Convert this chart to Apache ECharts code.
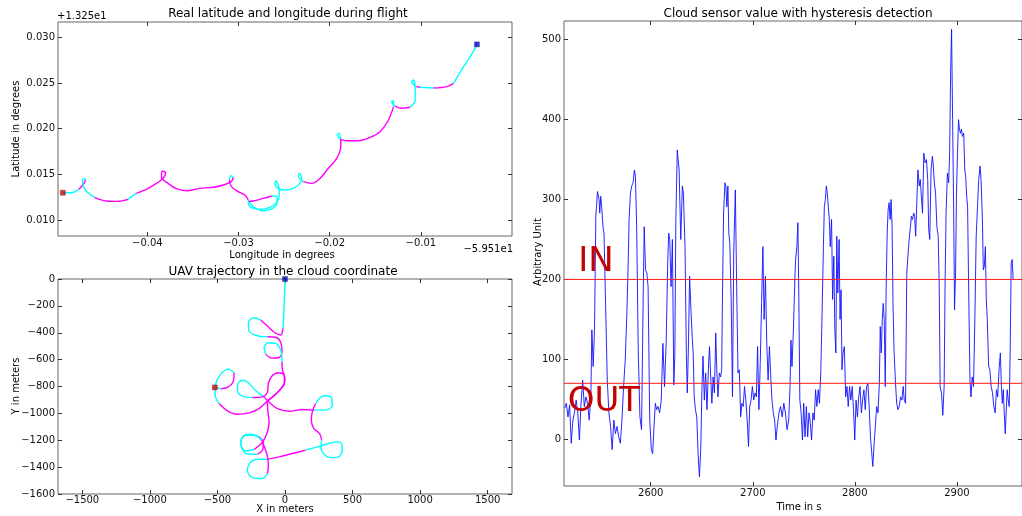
<!DOCTYPE html>
<html>
<head>
<meta charset="utf-8">
<script src="https://cdn.jsdelivr.net/npm/echarts@6/dist/echarts.min.js"></script>
<style>
html,body{margin:0;padding:0;background:#ffffff;}
#chart{width:1022px;height:516px;}
</style>
</head>
<body>
<div id="chart"></div>
<script>
// ---------- Panel 1: real latitude / longitude (offsets from -59.51 / +13.25) ----------
const gpsLon = [
  -0.04927,-0.04835,-0.04751,-0.04700,-0.04678,-0.04689,-0.04711,-0.04707,-0.04663,-0.04579,
  -0.04451,-0.04322,-0.04212,-0.04121,-0.04011,-0.03901,-0.03828,-0.03800,-0.03840,-0.03845,
  -0.03773,-0.03681,-0.03571,-0.03425,-0.03278,-0.03168,-0.03080,-0.03055,-0.03085,-0.03100,
  -0.03077,-0.03004,-0.02930,-0.02894,-0.02839,-0.02729,-0.02626,-0.02575,-0.02582,-0.02637,
  -0.02729,-0.02839,-0.02894,-0.02875,-0.02784,-0.02656,-0.02564,-0.02553,-0.02564,-0.02590,
  -0.02601,-0.02564,-0.02491,-0.02399,-0.02326,-0.02308,-0.02333,-0.02344,-0.02289,-0.02198,
  -0.02106,-0.02015,-0.01923,-0.01879,-0.01879,-0.01894,-0.01916,-0.01886,-0.01813,-0.01685,
  -0.01557,-0.01447,-0.01355,-0.01300,-0.01300,-0.01319,-0.01282,-0.01209,-0.01117,-0.01062,
  -0.01062,-0.01081,-0.01099,-0.01051,-0.01007,-0.00861,-0.00714,-0.00641,-0.00531,-0.00458,-0.00385
];
const gpsLat = [
  0.01299,0.01299,0.01336,0.01394,0.01438,0.01456,0.01438,0.01383,0.01310,0.01248,
  0.01208,0.01204,0.01226,0.01292,0.01336,0.01401,0.01456,0.01520,0.01535,0.01470,
  0.01401,0.01343,0.01321,0.01347,0.01358,0.01383,0.01420,0.01468,0.01485,0.01440,
  0.01365,0.01310,0.01274,0.01219,0.01146,0.01102,0.01128,0.01201,0.01255,0.01263,
  0.01237,0.01208,0.01201,0.01146,0.01117,0.01139,0.01219,0.01310,0.01383,0.01427,
  0.01401,0.01347,0.01328,0.01347,0.01401,0.01456,0.01511,0.01482,0.01420,0.01401,
  0.01456,0.01566,0.01675,0.01803,0.01876,0.01949,0.01931,0.01883,0.01868,0.01868,
  0.01905,0.01967,0.02095,0.02241,0.02307,0.02296,0.02248,0.02223,0.02234,0.02314,
  0.02423,0.02533,0.02515,0.02460,0.02453,0.02445,0.02460,0.02496,0.02679,0.02788,0.02923
];
// 0 = outside cloud (cyan), 1 = inside cloud (magenta)
const gpsState = [
  0,0,1,1,0,0,0,0,0,1,
  1,1,0,1,1,1,1,1,1,1,
  1,1,1,1,1,1,1,0,0,1,
  1,1,1,0,0,0,0,0,0,1,
  1,1,0,0,0,0,0,0,0,0,
  0,0,0,0,0,0,0,0,1,1,
  1,1,1,1,0,0,0,1,1,1,
  1,1,1,0,0,0,1,1,0,0,
  0,0,0,1,0,1,1,0,0,0,0
];
const lonTicks = [-0.04,-0.03,-0.02,-0.01];
const latTicks = [0.010,0.015,0.020,0.025,0.030];

// ---------- Panel 2: UAV trajectory in the cloud coordinate (meters) ----------
const cloudX = [
  0,-5,-10,-15,-32,-74,-130,-179,-229,-271,
  -266,-204,-130,-61,-29,-22,-44,-98,-143,-155,
  -123,-69,-32,-22,-19,-5,-5,-44,-98,-130,
  -128,-118,-130,-155,-180,-229,-290,-327,-310,-253,
  -192,-160,-167,-204,-266,-315,-327,-290,-229,-172,
  -143,-130,-123,-130,-172,-241,-278,-253,-192,-130,
  -44,54,153,264,338,404,424,404,350,288,
  266,271,256,214,195,202,227,288,338,350,
  301,214,128,30,-56,-106,-155,-216,-266,-303,
  -345,-352,-315,-241,-167,-130,-123,-98,-49,-7,
  0,-24,-74,-130,-192,-266,-352,-426,-487,-517,
  -512,-475,-421,-377,-382,-426,-475,-519
];
const cloudY = [
  0,-157,-281,-368,-417,-400,-350,-306,-288,-325,
  -388,-422,-430,-437,-479,-542,-584,-589,-559,-512,
  -474,-479,-529,-616,-678,-723,-778,-832,-882,-914,
  -976,-1063,-1138,-1195,-1230,-1269,-1279,-1225,-1170,-1155,
  -1175,-1220,-1274,-1304,-1304,-1269,-1212,-1163,-1163,-1200,
  -1274,-1324,-1386,-1448,-1485,-1478,-1423,-1361,-1341,-1341,
  -1324,-1299,-1274,-1242,-1220,-1212,-1262,-1319,-1329,-1304,
  -1249,-1200,-1150,-1113,-1051,-989,-927,-869,-877,-939,
  -976,-976,-971,-984,-964,-927,-877,-832,-778,-753,
  -772,-827,-872,-882,-877,-840,-778,-723,-698,-713,
  -753,-807,-864,-909,-964,-996,-1006,-981,-927,-864,
  -778,-708,-671,-698,-760,-807,-817,-807
];
const cloudState = [
  0,0,0,1,1,1,1,0,0,0,
  0,0,1,1,1,1,1,1,0,0,
  0,0,0,1,1,1,1,1,1,1,
  1,1,1,1,1,0,0,0,0,0,
  1,1,1,0,0,0,0,0,0,1,
  1,1,1,0,0,0,0,0,0,1,
  1,1,0,0,0,0,0,0,0,0,
  0,1,1,1,1,1,0,0,0,0,
  0,1,1,1,1,1,0,0,0,0,
  0,0,0,1,1,1,1,1,1,1,
  1,1,1,1,1,1,1,1,0,0,
  0,0,0,1,1,1,0,0
];
const cloudXTicks = [-1500,-1000,-500,0,500,1000,1500];
const cloudYTicks = [-1600,-1400,-1200,-1000,-800,-600,-400,-200,0];

// ---------- Panel 3: cloud sensor value ----------
const sensorTime = [
  2515.7,2517.3,2518.9,2520.5,2522.1,2523.7,2525.3,2526.9,2528.5,2530.1,
  2531.7,2533.3,2534.9,2536.5,2538.1,2539.7,2541.3,2542.3,2543.6,2544.9,
  2546.2,2547.8,2549.4,2550.0,2551.0,2551.9,2553.2,2554.2,2555.8,2557.4,
  2559.0,2560.6,2562.2,2563.8,2565.4,2567.0,2568.6,2570.2,2571.8,2573.4,
  2575.0,2576.6,2577.6,2578.8,2580.1,2581.4,2582.7,2584.0,2585.0,2586.2,
  2587.8,2589.4,2591.0,2592.6,2593.6,2594.9,2596.2,2597.4,2599.0,2600.6,
  2601.9,2603.2,2604.5,2605.8,2607.1,2608.7,2610.3,2611.9,2613.5,2615.1,
  2616.7,2617.6,2618.6,2619.9,2621.2,2622.6,2623.6,2624.6,2626.0,2627.8,
  2629.4,2631.0,2632.0,2633.6,2634.9,2635.8,2636.8,2638.1,2639.4,2640.6,
  2641.6,2642.6,2643.8,2645.1,2646.4,2647.7,2649.0,2650.2,2651.2,2652.5,
  2653.8,2655.1,2656.7,2657.6,2658.9,2659.9,2661.1,2662.4,2663.7,2664.7,
  2665.9,2667.2,2668.5,2669.5,2670.4,2671.4,2672.7,2673.6,2674.6,2675.6,
  2676.5,2677.5,2678.8,2680.1,2681.3,2682.9,2684.2,2685.5,2686.8,2688.1,
  2689.3,2690.6,2691.9,2693.2,2694.5,2695.8,2697.0,2698.3,2699.6,2700.9,
  2702.2,2703.5,2704.7,2706.0,2707.3,2708.6,2709.9,2711.1,2712.4,2713.7,
  2715.0,2716.3,2717.6,2718.8,2720.1,2721.4,2722.7,2724.0,2725.6,2727.2,
  2728.8,2730.4,2732.0,2733.6,2735.2,2736.5,2737.4,2738.4,2739.7,2741.0,
  2741.9,2743.2,2744.2,2745.1,2746.1,2747.4,2748.7,2749.9,2751.2,2752.5,
  2753.8,2755.1,2756.4,2757.6,2758.9,2760.2,2761.5,2762.8,2764.1,2765.3,
  2766.6,2767.9,2769.2,2770.1,2771.1,2772.1,2773.0,2774.0,2775.0,2775.9,
  2777.2,2778.2,2779.4,2780.4,2781.4,2782.3,2783.3,2784.6,2785.5,2786.5,
  2787.4,2788.4,2789.7,2791.0,2792.3,2793.5,2794.8,2796.1,2797.4,2798.7,
  2799.9,2801.2,2802.5,2803.8,2805.1,2806.4,2807.6,2808.9,2810.2,2811.5,
  2812.8,2814.0,2815.3,2816.6,2817.6,2818.9,2820.1,2821.4,2822.7,2824.0,
  2824.9,2825.9,2826.9,2827.8,2828.8,2829.8,2830.7,2831.7,2832.6,2833.6,
  2834.6,2835.5,2836.5,2837.4,2838.4,2839.7,2841.0,2842.3,2843.5,2844.8,
  2846.1,2847.4,2848.4,2849.7,2850.9,2852.2,2853.5,2854.5,2855.4,2856.4,
  2857.7,2858.6,2859.6,2860.5,2861.8,2863.1,2864.1,2865.0,2866.3,2867.6,
  2868.9,2870.2,2871.4,2872.4,2873.4,2874.7,2876.0,2876.9,2877.9,2879.1,
  2880.4,2881.7,2882.7,2883.6,2884.9,2886.2,2887.5,2888.4,2889.4,2890.7,
  2891.9,2892.9,2893.9,2894.8,2895.8,2896.8,2897.7,2898.7,2899.6,2900.6,
  2901.6,2902.5,2903.5,2904.5,2905.4,2906.7,2907.7,2908.6,2909.6,2910.5,
  2911.5,2912.8,2913.8,2915.0,2916.3,2917.6,2918.9,2920.2,2921.4,2922.7,
  2923.7,2925.0,2925.9,2926.9,2927.9,2928.8,2929.8,2931.1,2932.3,2933.6,
  2934.9,2936.2,2937.5,2938.8,2940.0,2941.3,2942.6,2943.6,2944.5,2945.5,
  2946.4,2947.4,2948.4,2949.3,2950.3,2951.3,2952.2,2953.2,2954.2,2955.1
];
const sensorValue = [
  39,45,28,43,-5,24,33,49,33,-1,
  45,74,41,53,45,24,53,137,91,137,
  279,310,300,283,304,291,266,258,166,74,
  33,16,-13,24,7,16,3,-5,24,66,
  99,158,204,275,308,317,321,337,329,266,
  108,28,12,179,266,212,208,191,24,-13,
  -18,16,45,37,41,33,49,120,66,120,
  225,258,250,191,250,68,105,275,362,337,
  250,317,308,241,108,58,108,204,162,129,
  108,53,37,28,-18,-47,-13,66,104,49,
  83,37,95,116,74,45,78,58,133,87,
  53,83,78,87,191,283,321,317,291,317,
  258,245,175,53,233,312,191,83,87,28,
  45,41,66,49,24,-9,41,49,66,49,
  58,53,116,37,95,170,241,150,204,120,
  74,116,78,49,33,24,-1,16,33,41,
  28,45,33,12,24,66,124,91,133,191,
  225,241,271,179,49,33,-1,45,3,41,
  3,33,20,-1,33,24,62,41,62,45,
  83,158,241,291,300,317,308,291,275,241,
  275,175,229,137,108,254,183,250,150,187,
  87,108,116,53,66,41,66,49,66,37,
  -1,49,28,53,66,33,49,62,37,66,
  70,41,3,-18,-34,-5,16,41,33,70,
  141,108,150,170,150,66,191,258,287,296,
  275,300,266,170,112,74,45,37,41,53,
  49,66,49,45,208,233,254,266,279,275,
  283,279,254,254,337,317,325,308,283,358,
  346,350,325,262,250,337,354,342,321,308,
  266,254,191,66,58,30,66,191,283,333,
  321,358,463,513,400,291,162,208,308,358,
  400,388,383,388,379,383,337,329,304,291,
  191,74,53,78,66,150,254,291,325,342,
  325,275,212,216,241,175,150,91,87,66,
  58,41,33,62,53,87,108,66,45,62,
  33,7,37,62,49,41,108,220,225,200
];
const thresholds = [200, 70];           // IN / OUT hysteresis levels
const timeTicks = [2600,2700,2800,2900];
const sensorTicks = [0,100,200,300,400,500];

// ---------- chart ----------
const FONT = 'DejaVu Sans';
const CYAN = '#00ffff', MAGENTA = '#ff00ff';
const chart = echarts.init(document.getElementById('chart'), null, {renderer: 'canvas'});

const LON_RANGE = [-0.0498, 0.0], LAT_RANGE = [0.00825, 0.03168];
const CX_RANGE = [-1680, 1680], CY_RANGE = [-1600, 0];
const T_RANGE = [2515, 2963.8], V_RANGE = [-58.5, 523.4];

function signed(dec) {
  return v => (v < 0 ? '\u2212' : '') + Math.abs(v).toFixed(dec);
}
function mainAxis(gridIndex, position, range, ticks, dec, margin) {
  return {
    type: 'value', gridIndex, position, min: range[0], max: range[1],
    axisLine: {show: false, onZero: false}, splitLine: {show: false},
    axisTick: {show: true, inside: true, length: 4, customValues: ticks, lineStyle: {color: '#333', width: 1}},
    axisLabel: {show: true, customValues: ticks, formatter: signed(dec), margin,
      fontFamily: FONT, fontSize: 10, color: '#111', showMinLabel: true, showMaxLabel: true}
  };
}
function mirrorAxis(gridIndex, position, range, ticks) {
  return {
    type: 'value', gridIndex, position, min: range[0], max: range[1],
    axisLine: {show: false, onZero: false}, splitLine: {show: false},
    axisTick: {show: true, inside: true, length: 4, customValues: ticks, lineStyle: {color: '#333', width: 1}},
    axisLabel: {show: false}
  };
}
function pathSeries(xs, ys, st, xi, yi) {
  const out = [];
  let pts = [[xs[0], ys[0]]], s = st[0];
  for (let i = 1; i < xs.length; i++) {
    const p = [xs[i], ys[i]];
    pts.push(p);
    if (st[i] !== s || i === xs.length - 1) {
      out.push({
        type: 'line', xAxisIndex: xi, yAxisIndex: yi, data: pts,
        showSymbol: false, symbol: 'none', smooth: 0.35, silent: true, z: 2,
        lineStyle: {color: s ? MAGENTA : CYAN, width: 1.4}
      });
      pts = [p]; s = st[i];
    }
  }
  return out;
}
function marker(xi, yi, pt, color) {
  return {
    type: 'scatter', xAxisIndex: xi, yAxisIndex: yi, data: [pt], symbol: 'rect', symbolSize: 5,
    silent: true, z: 5, itemStyle: {color, borderColor: '#333', borderWidth: 0.5}
  };
}
function label(text, x, y, opts) {
  return Object.assign({
    type: 'text', x, y, silent: true, z: 10,
    style: Object.assign({text, fill: '#000', fontFamily: FONT, fontSize: 10,
      align: 'center', verticalAlign: 'middle'}, (opts && opts.style) || {})
  }, opts && opts.rotation ? {rotation: opts.rotation} : {});
}

const gridStyle = {show: true, borderColor: '#666', borderWidth: 1, backgroundColor: 'transparent', containLabel: false};
const sensorData = sensorTime.map((t, i) => [t, sensorValue[i]]);
const nG = gpsLon.length - 1, nC = cloudX.length - 1;

const thresholdSeries = thresholds.map(v => ({
  type: 'line', xAxisIndex: 4, yAxisIndex: 4, data: [[T_RANGE[0], v], [T_RANGE[1], v]],
  showSymbol: false, symbol: 'none', silent: true, z: 4,
  lineStyle: {color: '#ff1a1a', width: 1, opacity: 1}
}));

const option = {
  animation: false,
  backgroundColor: '#ffffff',
  grid: [
    Object.assign({left: 58, top: 22, width: 454, height: 214}, gridStyle),
    Object.assign({left: 58, top: 279, width: 454, height: 215}, gridStyle),
    Object.assign({left: 564, top: 21, width: 467, height: 465}, gridStyle)
  ],
  xAxis: [
    mainAxis(0, 'bottom', LON_RANGE, lonTicks, 2, 2),
    mirrorAxis(0, 'top', LON_RANGE, lonTicks),
    mainAxis(1, 'bottom', CX_RANGE, cloudXTicks, 0, 1),
    mirrorAxis(1, 'top', CX_RANGE, cloudXTicks),
    mainAxis(2, 'bottom', T_RANGE, timeTicks, 0, 2),
    mirrorAxis(2, 'top', T_RANGE, timeTicks)
  ],
  yAxis: [
    mainAxis(0, 'left', LAT_RANGE, latTicks, 3, 3),
    mirrorAxis(0, 'right', LAT_RANGE, latTicks),
    mainAxis(1, 'left', CY_RANGE, cloudYTicks, 0, 3),
    mirrorAxis(1, 'right', CY_RANGE, cloudYTicks),
    mainAxis(2, 'left', V_RANGE, sensorTicks, 0, 3),
    mirrorAxis(2, 'right', V_RANGE, sensorTicks)
  ],
  series: [].concat(
    pathSeries(gpsLon, gpsLat, gpsState, 0, 0),
    [marker(0, 0, [gpsLon[0], gpsLat[0]], '#dd0000'),
     marker(0, 0, [gpsLon[nG], gpsLat[nG]], '#0000dd')],
    pathSeries(cloudX, cloudY, cloudState, 2, 2),
    [marker(2, 2, [cloudX[nC], cloudY[nC]], '#dd0000'),
     marker(2, 2, [cloudX[0], cloudY[0]], '#0000dd')],
    [{
      type: 'line', xAxisIndex: 4, yAxisIndex: 4, data: sensorData,
      showSymbol: false, symbol: 'none', silent: true, z: 3,
      lineStyle: {color: '#1010ff', width: 0.9}
    }],
    thresholdSeries
  ),
  graphic: [
    label('Real latitude and longitude during flight', 288, 14, {style: {fontSize: 12}}),
    label('UAV trajectory in the cloud coordinate', 283, 272, {style: {fontSize: 12}}),
    label('Cloud sensor value with hysteresis detection', 798, 14, {style: {fontSize: 12}}),
    label('+1.325e1', 57, 16.5, {style: {align: 'left'}}),
    label('\u22125.951e1', 513, 249.5, {style: {align: 'right'}}),
    label('Longitude in degrees', 282, 255),
    label('Latitude in degrees', 16, 129, {rotation: Math.PI / 2}),
    label('X in meters', 285, 509.5),
    label('Y in meters', 16, 386, {rotation: Math.PI / 2}),
    label('Time in s', 799, 507),
    label('Arbitrary Unit', 538, 252, {rotation: Math.PI / 2})
  ]
};
chart.setOption(option);

// Big hysteresis annotations placed in data coordinates
const annotations = [
  {id: 'ann-in', text: 'IN', t: 2529, v: 221},
  {id: 'ann-out', text: 'OUT', t: 2518.6, v: 47}
];
const annGraphics = annotations.map(a => {
  const p = chart.convertToPixel({xAxisIndex: 4, yAxisIndex: 4}, [a.t, a.v]);
  return {
    id: a.id, type: 'text', x: p[0], y: p[1], silent: true, z: 20,
    style: {text: a.text, fill: '#c40000', fontFamily: FONT, fontSize: 34, align: 'left', verticalAlign: 'middle'}
  };
});
chart.setOption({graphic: annGraphics});
</script>
</body>
</html>
